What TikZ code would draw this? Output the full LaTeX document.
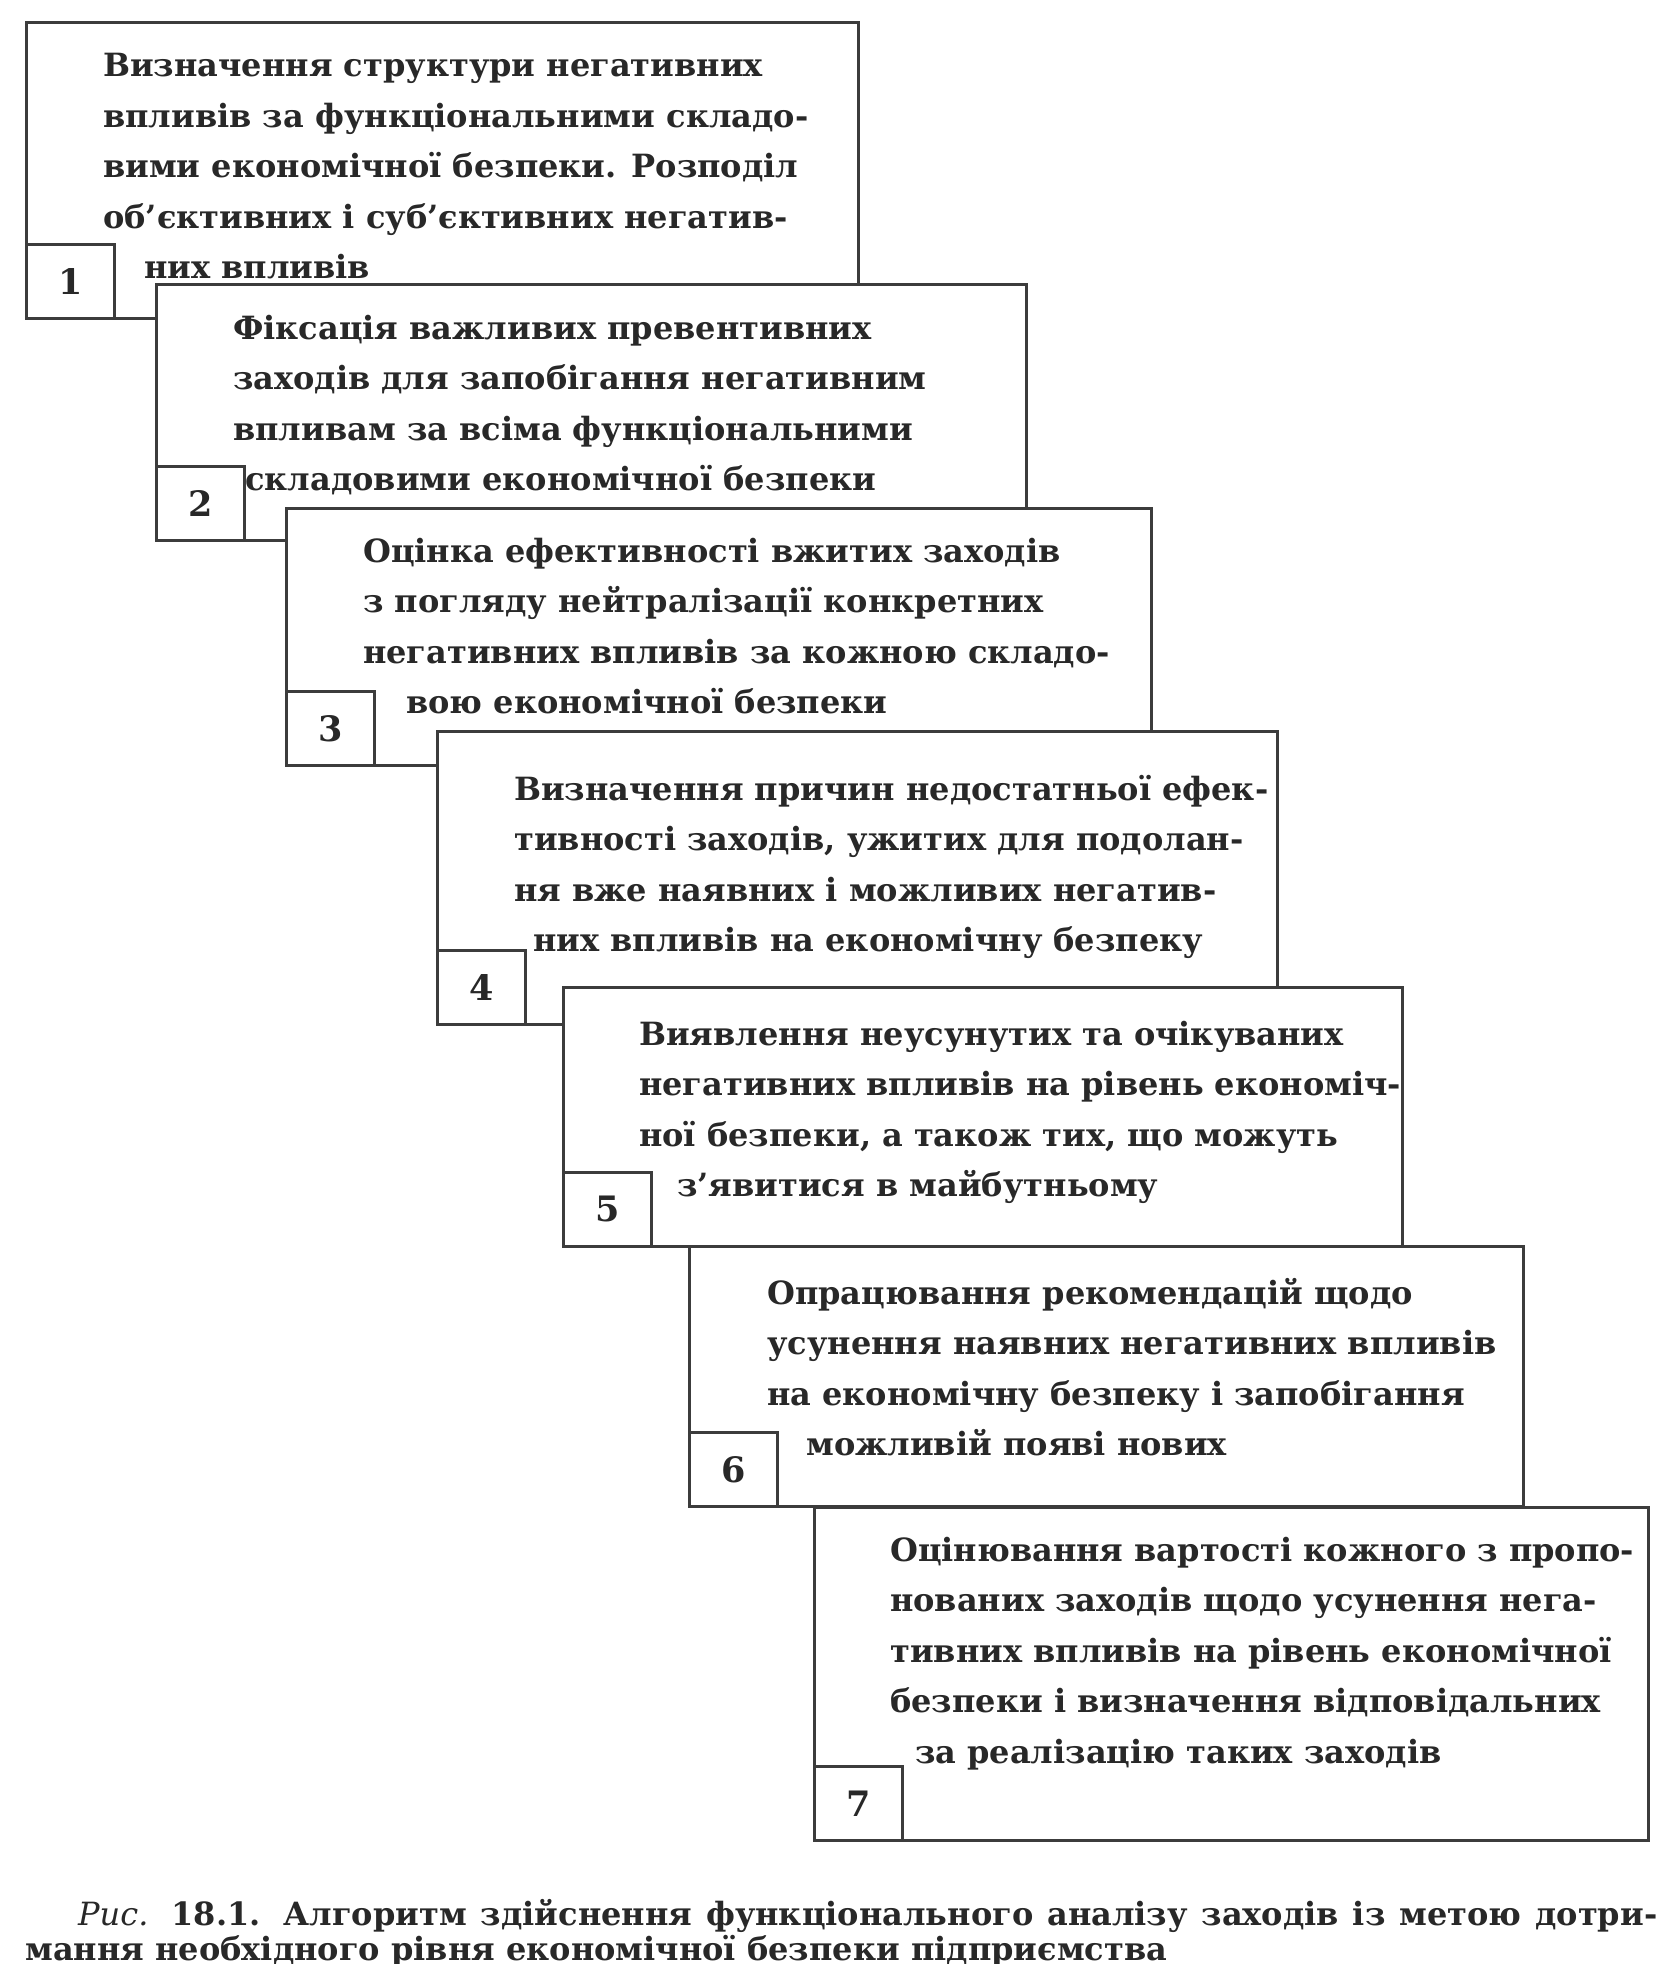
\documentclass[tikz,border=0pt]{standalone}
\usepackage{fontspec}
\setmainfont{DejaVu Serif}
\definecolor{linec}{RGB}{60,60,60}
\definecolor{txtc}{RGB}{40,40,40}
\tikzset{
  mainbox/.style={draw=linec, line width=2.8pt, fill=white, inner sep=0pt, anchor=north west},
  numbox/.style={draw=linec, line width=2.8pt, fill=white, minimum width=88pt, minimum height=74pt,
    inner sep=0pt, anchor=south west, text=txtc, font=\fontsize{35}{36}\selectfont\bfseries},
  boxtext/.style={anchor=base west, inner sep=0pt, text=txtc, font=\fontsize{32}{50.5}\selectfont\bfseries}
}
\begin{document}
\begin{tikzpicture}[x=1pt,y=-1pt]
\useasboundingbox[fill=white] (0,0) rectangle (1664,1964);

% Box 1
\node[mainbox, minimum width=832pt, minimum height=296pt] (b1) at (25,21) {};
\node[numbox] (n1) at (b1.south west) {1};
\node[boxtext] (t1) at (103,77) {\parbox[t]{1000pt}{\raggedright
Визначення структури негативних\\
впливів за функціональними складо-\\
вими економічної безпеки. Розподіл\\
об’єктивних і суб’єктивних негатив-\\
\hspace*{41pt}них впливів}};

% Box 2
\node[mainbox, minimum width=870pt, minimum height=256pt] (b2) at (155,283) {};
\node[numbox] (n2) at (b2.south west) {2};
\node[boxtext] (t2) at (233,339) {\parbox[t]{1000pt}{\raggedright
Фіксація важливих превентивних\\
заходів для запобігання негативним\\
впливам за всіма функціональними\\
\hspace*{12pt}складовими економічної безпеки}};

% Box 3
\node[mainbox, minimum width=865pt, minimum height=257pt] (b3) at (285,507) {};
\node[numbox] (n3) at (b3.south west) {3};
\node[boxtext] (t3) at (363,562) {\parbox[t]{1000pt}{\raggedright
Оцінка ефективності вжитих заходів\\
з погляду нейтралізації конкретних\\
негативних впливів за кожною складо-\\
\hspace*{43pt}вою економічної безпеки}};

% Box 4
\node[mainbox, minimum width=840pt, minimum height=293pt] (b4) at (436,730) {};
\node[numbox] (n4) at (b4.south west) {4};
\node[boxtext] (t4) at (514,800) {\parbox[t]{1000pt}{\raggedright
Визначення причин недостатньої ефек-\\
тивності заходів, ужитих для подолан-\\
ня вже наявних і можливих негатив-\\
\hspace*{19pt}них впливів на економічну безпеку}};

% Box 5
\node[mainbox, minimum width=839pt, minimum height=259pt] (b5) at (562,986) {};
\node[numbox] (n5) at (b5.south west) {5};
\node[boxtext] (t5) at (639,1045) {\parbox[t]{1000pt}{\raggedright
Виявлення неусунутих та очікуваних\\
негативних впливів на рівень економіч-\\
ної безпеки, а також тих, що можуть\\
\hspace*{38pt}з’явитися в майбутньому}};

% Box 6
\node[mainbox, minimum width=834pt, minimum height=260pt] (b6) at (688,1245) {};
\node[numbox] (n6) at (b6.south west) {6};
\node[boxtext] (t6) at (767,1304) {\parbox[t]{1000pt}{\raggedright
Опрацювання рекомендацій щодо\\
усунення наявних негативних впливів\\
на економічну безпеку і запобігання\\
\hspace*{39pt}можливій появі нових}};

% Box 7
\node[mainbox, minimum width=834pt, minimum height=333pt] (b7) at (813,1506) {};
\node[numbox] (n7) at (b7.south west) {7};
\node[boxtext] (t7) at (890,1561) {\parbox[t]{1000pt}{\raggedright
Оцінювання вартості кожного з пропо-\\
нованих заходів щодо усунення нега-\\
тивних впливів на рівень економічної\\
безпеки і визначення відповідальних\\
\hspace*{25pt}за реалізацію таких заходів}};

% Caption
\node[anchor=base west, inner sep=0pt, text=txtc] (cap) at (25,1925) {\parbox[t]{1640pt}{%
\fontsize{32}{35}\selectfont\bfseries\raggedright
\hspace*{53pt}\makebox[1579pt][s]{{\mdseries\itshape Рис.} 18.1. Алгоритм здійснення функціонального аналізу заходів із метою дотри-}\\
мання необхідного рівня економічної безпеки підприємства}};
\end{tikzpicture}
\end{document}
